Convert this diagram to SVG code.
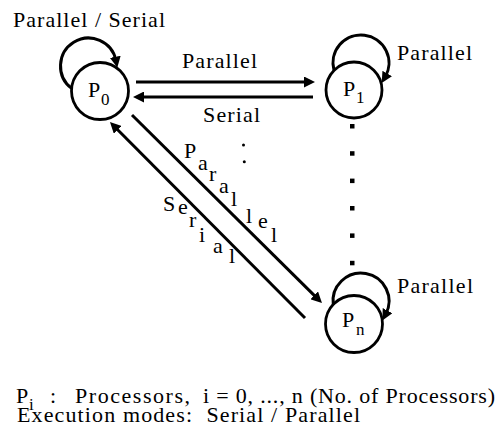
<svg xmlns="http://www.w3.org/2000/svg" width="501" height="434" viewBox="0 0 501 434">
  <style>
    .node { fill: none; stroke: #000; stroke-width: 2.8; }
    .edge { fill: none; stroke: #000; stroke-width: 3; marker-end: url(#ah); }
    .dot { fill: #000; }
  </style>
  <defs>
    <marker id="ah" viewBox="0 0 11 11" refX="4" refY="5.5" markerWidth="11" markerHeight="11" markerUnits="userSpaceOnUse" orient="auto">
      <path d="M0,0 L11,5.5 L0,11 z" fill="#000"/>
    </marker>
  </defs>
  <rect width="501" height="434" fill="#fff"/>

  <g id="connectors">
    <path class="edge" d="M136,82 L308,82"/>
    <path class="edge" d="M313,97 L140,97"/>
    <path class="edge" d="M132,115 L317,298.1"/>
    <path class="edge" d="M305,318 L114.9,127"/>
    <path class="edge" d="M71.6,88.4 A28,28 0 1 1 116,60.75"/>
    <path class="edge" d="M334,70.4 A28,28 0 1 1 385.2,77"/>
    <path class="edge" d="M333.3,305.1 A28,28 0 1 1 385.7,314.2"/>
  </g>

  <g font-family="Liberation Serif, Times New Roman, serif" fill="#000">
    <g id="node-p0">
      <circle class="node" cx="100" cy="91" r="28.5"/>
      <text font-size="22" x="88" y="97">P</text>
      <text font-size="17" x="101" y="105">0</text>
    </g>
    <g id="node-p1">
      <circle class="node" cx="354" cy="90" r="28"/>
      <text font-size="22" x="343" y="96">P</text>
      <text font-size="17" x="356" y="103">1</text>
    </g>
    <g id="node-pn">
      <circle class="node" cx="354" cy="324" r="28.5"/>
      <text font-size="22" x="342" y="327">P</text>
      <text font-size="17" x="356" y="335">n</text>
    </g>

    <g id="edge-labels" font-size="22">
      <text x="13" y="27" textLength="152" lengthAdjust="spacing">Parallel / Serial</text>
      <text x="182" y="68" textLength="75" lengthAdjust="spacing">Parallel</text>
      <text x="203" y="122" textLength="57" lengthAdjust="spacing">Serial</text>
      <text x="397" y="60" textLength="75" lengthAdjust="spacing">Parallel</text>
      <text x="397" y="293" textLength="76" lengthAdjust="spacing">Parallel</text>
      <text x="184 198 209 219 231 246 258 271" y="158 170 181 193 206 223 228 242">Parallel</text>
      <text x="163 178 189 199 213 229" y="211 214 227 242 253 263">Serial</text>
    </g>

    <g id="legend" font-size="22">
      <text x="16" y="403">P</text>
      <text font-size="17" x="29" y="410">i</text>
      <text x="50" y="403">:</text>
      <text x="75" y="403" textLength="115" lengthAdjust="spacing">Processors,</text>
      <text x="203" y="403" textLength="292" lengthAdjust="spacing">i = 0, ..., n (No. of Processors)</text>
      <text x="17" y="422" textLength="343" lengthAdjust="spacing" xml:space="preserve">Execution modes:  Serial / Parallel</text>
    </g>
  </g>

  <g id="ellipsis">
    <circle class="dot" cx="243.5" cy="145" r="1.5"/>
    <circle class="dot" cx="244.3" cy="161.7" r="1.5"/>
    <rect class="dot" x="350" y="124" width="4.5" height="4.5"/>
    <rect class="dot" x="350" y="151.2" width="4.5" height="4.5"/>
    <rect class="dot" x="350" y="178.6" width="4.5" height="4.5"/>
    <rect class="dot" x="350" y="206" width="4.5" height="4.5"/>
    <rect class="dot" x="350" y="233.4" width="4.5" height="4.5"/>
    <rect class="dot" x="350" y="260.8" width="4.5" height="4.5"/>
  </g>
</svg>
